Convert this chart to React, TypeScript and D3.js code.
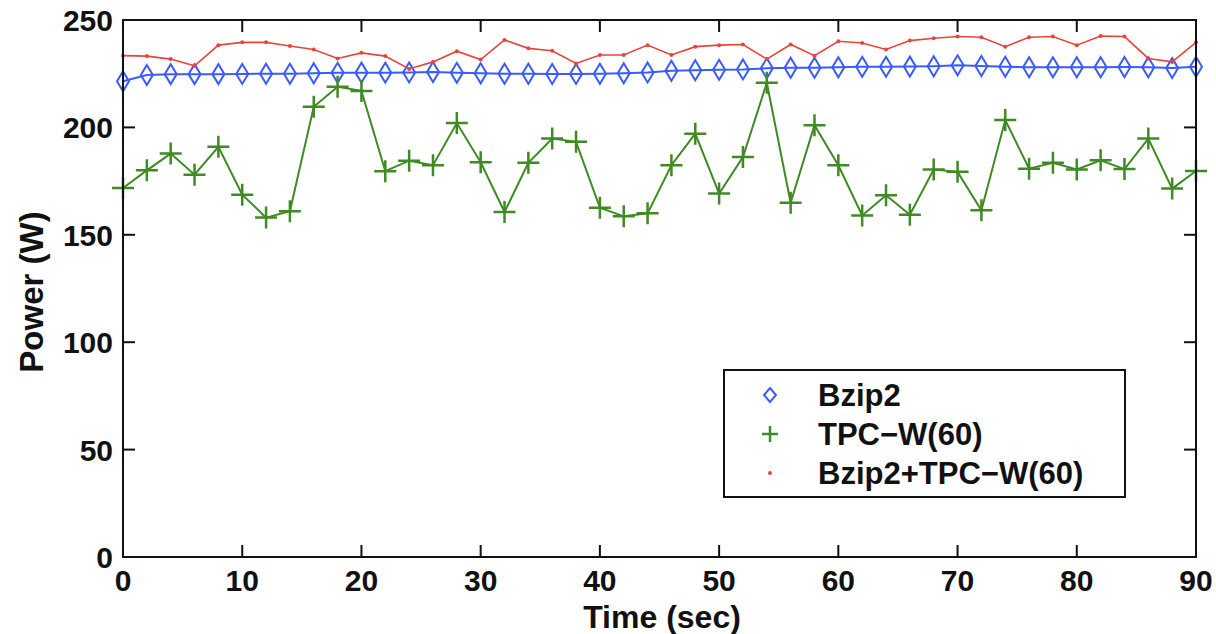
import React from "react";
import * as d3 from "d3";

const times: number[] = d3.range(0, 92, 2);
const bzip2: number[] = [221.5, 224.4, 224.8, 224.8, 224.8, 224.9, 225.0, 225.0, 225.2, 225.4, 225.5, 225.5, 225.6, 225.8, 225.4, 225.2, 225.0, 225.0, 224.9, 224.9, 225.0, 225.2, 225.6, 226.4, 226.6, 226.8, 227.0, 227.5, 227.8, 227.8, 228.0, 228.2, 228.2, 228.3, 228.5, 228.9, 228.6, 228.2, 228.0, 228.0, 228.0, 228.0, 228.1, 228.0, 227.6, 228.2];
const tpcw: number[] = [171.8, 180, 187.8, 178, 191, 168.7, 158, 161, 209.6, 218.9, 217, 179.6, 184.5, 182.4, 202, 183.8, 160.6, 183.5, 194.8, 193.3, 162.6, 158.6, 160, 182.4, 197.1, 169.2, 186.2, 220.8, 164.9, 201, 182.4, 159, 168.4, 159.3, 180.4, 179.3, 161.4, 203.4, 180.8, 183.5, 180.4, 184.7, 180.6, 194.8, 171.5, 179.7];
const combined: number[] = [233.4, 233.2, 231.8, 228.7, 238.3, 239.6, 239.6, 237.9, 236.3, 232.1, 234.7, 233.2, 227.2, 230.5, 235.5, 231.6, 240.7, 236.8, 235.7, 229.8, 233.7, 233.7, 238.3, 233.7, 237.6, 238.3, 238.6, 231.8, 238.6, 233.4, 240.1, 239.3, 236.3, 240.4, 241.5, 242.3, 242.0, 237.6, 242.0, 242.3, 238.3, 242.5, 242.3, 232.1, 230.5, 239.6];
const xTicks: number[] = [0, 10, 20, 30, 40, 50, 60, 70, 80, 90];
const yTicks: number[] = [0, 50, 100, 150, 200, 250];
const legendLabels: string[] = ["Bzip2", "TPC\u2212W(60)", "Bzip2+TPC\u2212W(60)"];

const W = 1216;
const H = 634;
const L = 123, R = 1196, T = 20, B = 557;
const FONT = "'Liberation Sans', Arial, Helvetica, sans-serif";
const BLUE = "#3a5cff";
const GREEN = "#3f8a22";
const RED = "#e8453a";

export default function App() {
  const x = d3.scaleLinear().domain([0, 90]).range([L, R]);
  const y = d3.scaleLinear().domain([0, 250]).range([B, T]);
  const line = d3.line<number>().x((_, i) => x(times[i])).y((d) => y(d));

  const diamond = (cx: number, cy: number, w = 6, h = 10) =>
    `M${cx},${cy - h}L${cx + w},${cy}L${cx},${cy + h}L${cx - w},${cy}Z`;
  const plus = (cx: number, cy: number, s = 11) =>
    `M${cx - s},${cy}H${cx + s}M${cx},${cy - s}V${cy + s}`;

  const tickLen = 12;
  const legX = 724, legY = 370, legW = 401, legH = 127;
  const rows = [395, 434, 473];

  return (
    <svg width={W} height={H} style={{ position: "absolute", left: 0, top: 0, background: "#fff" }}>
      <path d={line(bzip2) || ""} fill="none" stroke={BLUE} strokeWidth={2} />
      {bzip2.map((v, i) => (
        <path key={"b" + i} d={diamond(x(times[i]), y(v))} fill="none" stroke={BLUE} strokeWidth={2} />
      ))}
      <path d={line(tpcw) || ""} fill="none" stroke={GREEN} strokeWidth={2} />
      {tpcw.map((v, i) => (
        <path key={"g" + i} d={plus(x(times[i]), y(v))} fill="none" stroke={GREEN} strokeWidth={2.5} />
      ))}
      <path d={line(combined) || ""} fill="none" stroke={RED} strokeWidth={1.6} />
      {combined.map((v, i) => (
        <circle key={"r" + i} cx={x(times[i])} cy={y(v)} r={2} fill={RED} />
      ))}

      <rect x={L} y={T} width={R - L} height={B - T} fill="none" stroke="#111" strokeWidth={2} />
      {xTicks.map((t) => (
        <g key={"xt" + t}>
          <line x1={x(t)} x2={x(t)} y1={B} y2={B - tickLen} stroke="#111" strokeWidth={2} />
          <line x1={x(t)} x2={x(t)} y1={T} y2={T + tickLen} stroke="#111" strokeWidth={2} />
          <text x={x(t)} y={591} textAnchor="middle" fontFamily={FONT} fontWeight="bold" fontSize={30} fill="#111">
            {t}
          </text>
        </g>
      ))}
      {yTicks.map((t) => (
        <g key={"yt" + t}>
          <line x1={L} x2={L + tickLen} y1={y(t)} y2={y(t)} stroke="#111" strokeWidth={2} />
          <line x1={R} x2={R - tickLen} y1={y(t)} y2={y(t)} stroke="#111" strokeWidth={2} />
          <text x={113} y={y(t) + 11} textAnchor="end" fontFamily={FONT} fontWeight="bold" fontSize={30} fill="#111">
            {t}
          </text>
        </g>
      ))}
      <text x={662} y={628} textAnchor="middle" fontFamily={FONT} fontWeight="bold" fontSize={32} fill="#111">
        Time (sec)
      </text>
      <text
        transform={`translate(43, 292) rotate(-90)`}
        textAnchor="middle"
        fontFamily={FONT}
        fontWeight="bold"
        fontSize={33}
        fill="#111"
      >
        Power (W)
      </text>

      <rect x={legX} y={legY} width={legW} height={legH} fill="#fff" stroke="#111" strokeWidth={2} />
      <path d={diamond(770, rows[0], 6, 7)} fill="none" stroke={BLUE} strokeWidth={2} />
      <path d={plus(770, rows[1], 8)} fill="none" stroke={GREEN} strokeWidth={2.5} />
      <circle cx={770} cy={rows[2]} r={2} fill={RED} />
      {legendLabels.map((lab, i) => (
        <text key={lab} x={818} y={rows[i] + 11} fontFamily={FONT} fontWeight="bold" fontSize={31} fill="#111">
          {lab}
        </text>
      ))}
    </svg>
  );
}
